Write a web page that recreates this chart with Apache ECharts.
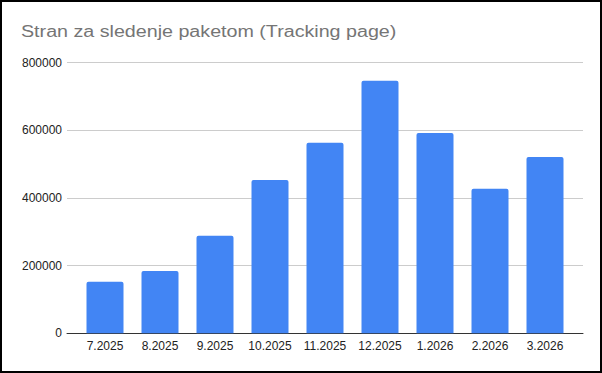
<!DOCTYPE html>
<html>
<head>
<meta charset="utf-8">
<script src="https://cdn.jsdelivr.net/npm/echarts@6/dist/echarts.min.js"></script>
<style>
html,body{margin:0;padding:0;background:#fff;}
#c{width:602px;height:373px;}
</style>
</head>
<body>
<div id="c"></div>
<script>
const titleText = 'Stran za sledenje paketom (Tracking page)';
const categories = ['7.2025','8.2025','9.2025','10.2025','11.2025','12.2025','1.2026','2.2026','3.2026'];
const values = [152000, 184000, 288000, 453000, 563000, 746000, 592000, 427000, 521000];
const yTicks = [0, 200000, 400000, 600000, 800000];

const yMin = yTicks[0], yMax = yTicks[yTicks.length-1], yStep = yTicks[1]-yTicks[0];
const gridTop = 62.5, gridBottom = 39.7;

const chart = echarts.init(document.getElementById('c'), null, {renderer:'svg'});
chart.setOption({
  animation:false,
  backgroundColor:'#fff',
  graphic:[
    {type:'rect', shape:{x:1,y:1,width:600,height:371}, style:{fill:'none', stroke:'#000', lineWidth:2}, z:100},
    {type:'text', left:21, top:24, scaleX:1.23, originX:21, style:{text:titleText, font:'16px "Liberation Sans", Arial, sans-serif', fill:'#757575'}}
  ],
  grid:[
    {left:67, right:19, top:gridTop, bottom:gridBottom},
    {left:77.5, right:29.5, top:gridTop, bottom:gridBottom}
  ],
  xAxis:[
    {gridIndex:0, type:'value', min:0, max:1, axisLine:{show:true, onZero:false, lineStyle:{color:'#333', width:1}}, axisTick:{show:false}, axisLabel:{show:false}, splitLine:{show:false}},
    {gridIndex:1, type:'category', data:categories, axisLine:{show:false}, axisTick:{show:false},
     axisLabel:{interval:0, margin:7, fontSize:12, color:'#222', fontFamily:'"Liberation Sans", Arial, sans-serif'}}
  ],
  yAxis:[
    {gridIndex:0, type:'value', min:yMin, max:yMax, interval:yStep, axisLine:{show:false}, axisTick:{show:false},
     axisLabel:{margin:5, fontSize:12, color:'#222', fontFamily:'"Liberation Sans", Arial, sans-serif', formatter:v => String(v)},
     splitLine:{lineStyle:{color:'#cccccc', width:1}}},
    {gridIndex:1, type:'value', min:yMin, max:yMax, interval:yStep, show:false, splitLine:{show:false}}
  ],
  series:[{
    type:'bar', xAxisIndex:1, yAxisIndex:1, data:values, barWidth:37,
    itemStyle:{color:'#4285F4', borderRadius:[2,2,0,0]}
  }]
});
</script>
</body>
</html>
